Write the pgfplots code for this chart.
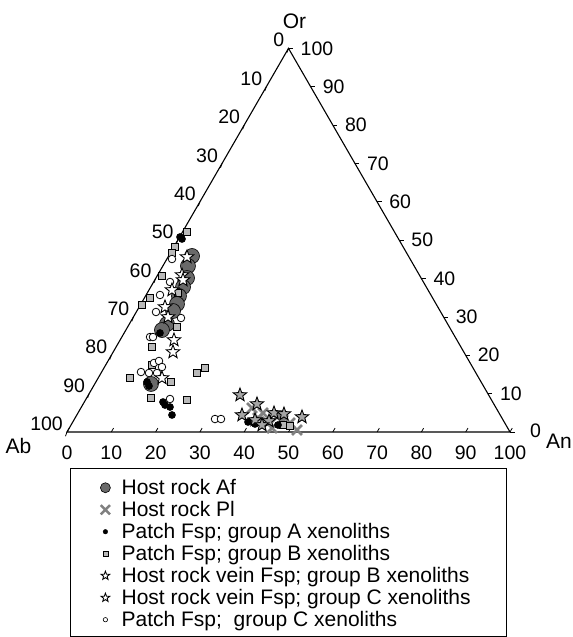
\documentclass[border=0pt]{standalone}
\usepackage{pgfplots}
\pgfplotsset{compat=1.18}
\usepackage{fontspec}
\setmainfont{Liberation Sans}
\usetikzlibrary{plotmarks}
\definecolor{afgray}{RGB}{105,105,105}
\definecolor{xgray}{RGB}{128,128,128}
\definecolor{sqgray}{RGB}{185,185,185}
\definecolor{stgray}{RGB}{165,165,165}
\pgfdeclareplotmark{fstar}{%
  \pgfpathmoveto{\pgfqpointpolar{90}{\pgfplotmarksize}}%
  \pgfpathlineto{\pgfqpointpolar{126}{0.42\pgfplotmarksize}}%
  \pgfpathlineto{\pgfqpointpolar{162}{\pgfplotmarksize}}%
  \pgfpathlineto{\pgfqpointpolar{198}{0.42\pgfplotmarksize}}%
  \pgfpathlineto{\pgfqpointpolar{234}{\pgfplotmarksize}}%
  \pgfpathlineto{\pgfqpointpolar{270}{0.42\pgfplotmarksize}}%
  \pgfpathlineto{\pgfqpointpolar{306}{\pgfplotmarksize}}%
  \pgfpathlineto{\pgfqpointpolar{342}{0.42\pgfplotmarksize}}%
  \pgfpathlineto{\pgfqpointpolar{18}{\pgfplotmarksize}}%
  \pgfpathlineto{\pgfqpointpolar{54}{0.42\pgfplotmarksize}}%
  \pgfpathclose
  \pgfusepathqfillstroke}
\begin{document}
\begin{tikzpicture}
\useasboundingbox (-67bp,-205bp) rectangle (506bp,432bp);
\begin{axis}[
  at={(0,0)}, anchor=origin,
  x=4.43bp, y=4.43bp,
  xmin=0, xmax=100, ymin=0, ymax=86.6,
  hide axis, clip=false,
  legend cell align=left,
  legend image code/.code={\draw[#1] (-6bp,0bp) (6bp,0bp) plot coordinates {(0bp,0bp)};},
  legend style={draw=none, fill=none, at={(axis description cs:0.0655,-0.1126)}, anchor=north west,
    font=\fontsize{21bp}{24bp}\selectfont, row sep=1.3bp,
    /tikz/every odd column/.append style={column sep=8bp}},
]
% triangle
\draw[black, line width=1.1bp] (axis cs:0,0) -- (axis cs:100,0) -- (axis cs:50,86.6025) -- cycle;
\pgfplotsinvokeforeach{0,10,...,100}{
  \draw[line width=0.8bp] (axis cs:#1,0) -- ++(60:4.5bp);
  \node[anchor=north, inner sep=0pt, font=\fontsize{19.5bp}{21bp}\selectfont] at (axis cs:#1,0) [yshift=-14bp] {#1};
  \draw[line width=0.8bp] (axis cs:{(100-#1)/2},{0.8660254*(100-#1)}) -- ++(250:4.5bp);
  \node[anchor=south east, inner sep=0pt, font=\fontsize{19.5bp}{21bp}\selectfont] at (axis cs:{(100-#1)/2},{0.8660254*(100-#1)}) [xshift=-4bp, yshift=1bp] {#1};
  \draw[line width=0.8bp] (axis cs:{100-#1/2},{0.8660254*#1}) -- ++(0:4.5bp);
}
\pgfplotsinvokeforeach{10,20,...,100}{
  \node[anchor=west, inner sep=0pt, font=\fontsize{19.5bp}{21bp}\selectfont] at (axis cs:{100-#1/2},{0.8660254*#1}) [xshift=12bp] {#1};
}
\node[anchor=west, inner sep=0pt, font=\fontsize{19.5bp}{21bp}\selectfont] at (axis cs:100,0) [xshift=20bp, yshift=1bp] {0};
\node[anchor=base, inner sep=0pt, font=\fontsize{21bp}{23bp}\selectfont] at (axis cs:50,86.6025) [xshift=6bp, yshift=20bp] {Or};
\node[anchor=base, inner sep=0pt, font=\fontsize{21bp}{23bp}\selectfont] at (axis cs:0,0) [xshift=-48.5bp, yshift=-21bp] {Ab};
\node[anchor=base, inner sep=0pt, font=\fontsize{21bp}{23bp}\selectfont] at (axis cs:100,0) [xshift=49bp, yshift=-16bp] {An};

% Host rock Af
\addplot[only marks, mark=*, mark size=7.5bp, mark options={fill=afgray, draw=black, line width=0.6bp}, forget plot] coordinates {
(28.22,39.73)(27.31,37.47)(27.09,34.76)(26.19,32.73)(25.28,30.70)(24.83,28.89)(23.93,27.31)(22.57,24.38)(21.44,23.02)(18.96,10.84)
};
% Host rock Pl
\addplot[only marks, mark=x, mark size=7bp, mark options={draw=xgray, line width=2.8bp}, forget plot] coordinates {
(41.76,5.42)(44.24,4.29)(43.12,3.16)(45.15,2.26)(46.28,0.90)(47.40,3.39)(48.76,2.71)(50.34,2.03)(51.92,0.45)
};
% Patch Fsp group B
\addplot[only marks, mark=square*, mark size=3.6bp, mark options={fill=sqgray, draw=black, line width=0.8bp}, forget plot] coordinates {
(27.09,45.15)(24.38,41.76)(23.70,40.41)(21.44,35.21)(18.74,30.25)(16.93,28.67)(25.06,31.38)(24.83,23.70)(19.19,19.19)(19.19,15.12)(14.22,12.19)(23.48,11.29)(18.96,7.67)(27.09,7.22)(29.35,13.32)(31.15,14.45)(48.76,1.58)(50.34,1.35)
};
% Patch Fsp group C
\addplot[only marks, mark=*, mark size=3.8bp, mark options={fill=white, draw=black, line width=0.8bp}, forget plot] coordinates {
(23.70,39.05)(23.25,33.86)(20.99,30.93)(20.09,27.09)(25.73,25.73)(18.74,21.44)(19.41,21.44)(19.64,15.58)(20.77,16.03)(21.44,14.67)(16.70,13.54)(18.51,13.32)(20.32,13.32)(23.25,7.45)(33.41,2.93)(34.76,2.93)
};
% Patch Fsp group A
\addplot[only marks, mark=*, mark size=3.6bp, mark options={fill=black, draw=black}, forget plot] coordinates {
(25.51,44.02)(25.96,43.57)(20.99,22.35)(18.06,11.29)(18.51,10.38)(21.67,6.77)(22.12,6.09)(23.25,5.64)(23.70,3.84)(40.86,2.26)(42.44,1.81)(47.63,1.58)
};
% Host rock vein Fsp group B
\addplot[only marks, mark=fstar, mark size=7bp, mark options={fill=stgray, draw=black, line width=0.9bp}, forget plot] coordinates {
(39.05,8.35)(42.89,6.32)(46.73,4.29)(48.98,4.06)(39.50,3.84)(53.05,3.39)(42.44,2.71)(45.60,2.48)(44.02,1.58)
};
% Host rock vein Fsp group C
\addplot[only marks, mark=fstar, mark size=7bp, mark options={fill=white, draw=black, line width=0.9bp}, forget plot] coordinates {
(27.09,39.50)(25.96,35.44)(26.19,34.31)(23.70,32.05)(22.12,28.22)(22.80,25.96)(24.15,20.77)(23.93,18.06)(21.44,12.19)
};

\addlegendimage{only marks, mark=*, mark size=5bp, mark options={fill=afgray, draw=black, line width=0.6bp}}
\addlegendentry{Host rock Af}
\addlegendimage{only marks, mark=x, mark size=6.5bp, mark options={draw=xgray, line width=2.5bp}}
\addlegendentry{Host rock Pl}
\addlegendimage{only marks, mark=*, mark size=2.3bp, mark options={fill=black, draw=black}}
\addlegendentry{Patch Fsp; group A xenoliths}
\addlegendimage{only marks, mark=square*, mark size=2.4bp, mark options={fill=sqgray, draw=black, line width=0.6bp}}
\addlegendentry{Patch Fsp; group B xenoliths}
\addlegendimage{only marks, mark=fstar, mark size=4.5bp, mark options={fill=white, draw=black, line width=0.9bp}}
\addlegendentry{Host rock vein Fsp; group B xenoliths}
\addlegendimage{only marks, mark=fstar, mark size=4.5bp, mark options={fill=white, draw=black, line width=0.9bp}}
\addlegendentry{Host rock vein Fsp; group C xenoliths}
\addlegendimage{only marks, mark=*, mark size=2.2bp, mark options={fill=white, draw=black, line width=0.6bp}}
\addlegendentry{Patch Fsp;\ \ group C xenoliths}
\end{axis}
\draw[line width=0.8bp] (3bp,-36bp) rectangle (439bp,-204.5bp);
\end{tikzpicture}
\end{document}
